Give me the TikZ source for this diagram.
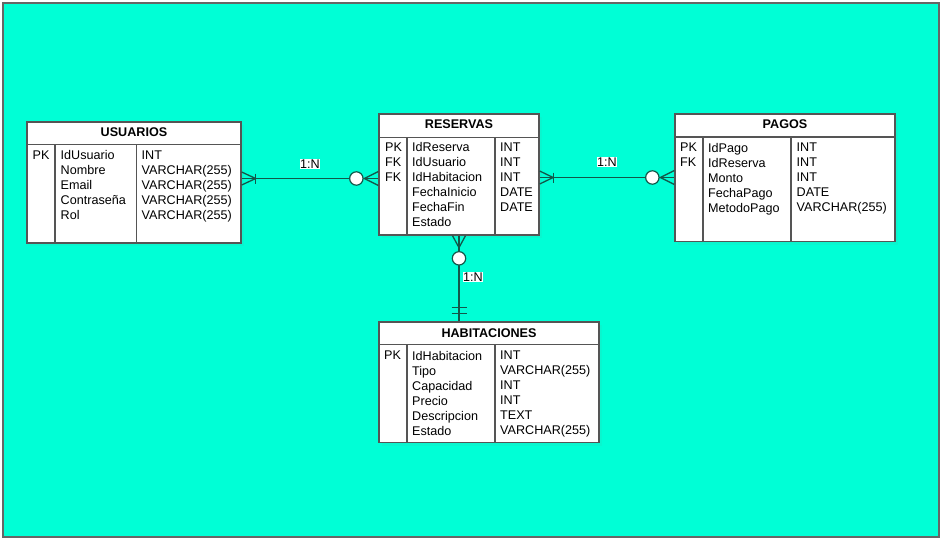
\documentclass[tikz,border=0pt]{standalone}
\usepackage{fontspec}
\setmainfont{Liberation Sans}
\usepackage{tikz}
\usetikzlibrary{positioning,shadows}
\definecolor{bgaqua}{RGB}{0,255,214}
\definecolor{frameline}{RGB}{102,102,102}
\definecolor{tableline}{RGB}{85,85,85}
\definecolor{erline}{RGB}{18,88,74}
\tikzset{
    %Define style for table boxes
    tablebox/.style={
           rectangle,
           draw=tableline, line width=1.3pt,
           fill=white,
           inner sep=0pt,
           drop shadow={shadow xshift=3pt, shadow yshift=-3pt, opacity=0.07}
           },
    headtext/.style={
           font=\fontsize{12.6}{15}\selectfont\bfseries,
           inner sep=0pt,
           text centered
           },
    coltext/.style={
           anchor=north west,
           align=left,
           inner sep=0pt,
           font=\fontsize{12.6}{15}\selectfont
           },
    divider/.style={
           draw=tableline, line width=1.3pt},
    % Define connector style
    erline/.style={
           draw=erline, line width=1.3pt},
    ercircle/.style={
           circle,
           draw=erline, line width=1.2pt,
           fill=white,
           inner sep=0pt,
           minimum size=13.4pt},
    card/.style={
           fill=white,
           inner sep=0.6pt,
           font=\fontsize{12.6}{15}\selectfont}
}
\begin{document}
\begin{tikzpicture}[x=1pt,y=-1pt]
\useasboundingbox (0,0) rectangle (942,539);
\draw[draw=frameline, fill=bgaqua, line width=2pt] (3,2.5) rectangle (938.5,536.5);

 %tables
\node[tablebox, minimum width=214pt, minimum height=121pt] (usuarios) at (134,182.5) {};
\node[tablebox, minimum width=160pt, minimum height=121pt] (reservas) at (459,174.5) {};
\node[tablebox, minimum width=220pt, minimum height=127.5pt] (pagos) at (785,177.75) {};
\node[tablebox, minimum width=220pt, minimum height=120.5pt] (habitaciones) at (489,382.25) {};

 %USUARIOS
\node[headtext] (usuarios-t) at (134,132.5) {USUARIOS};
\draw[divider] (27,144.5) -- (241,144.5);
\draw[divider] (55,144.5) -- (55,243);
\draw[divider] (136.5,144.5) -- (136.5,243);
\node[coltext] (usuarios-k) at (32.5,150.4) {PK};
\node[coltext] (usuarios-n) at (60.5,150.4) {IdUsuario\\Nombre\\Email\\Contraseña\\Rol};
\node[coltext] (usuarios-d) at (141.5,150.4) {INT\\VARCHAR(255)\\VARCHAR(255)\\VARCHAR(255)\\VARCHAR(255)};

 %RESERVAS
\node[headtext] (reservas-t) at (459,124.5) {RESERVAS};
\draw[divider] (379,137.5) -- (539,137.5);
\draw[divider] (407,137.5) -- (407,235);
\draw[divider] (495,137.5) -- (495,235);
\node[coltext] (reservas-k) at (385,142.4) {PK\\FK\\FK};
\node[coltext] (reservas-n) at (412,142.4) {IdReserva\\IdUsuario\\IdHabitacion\\FechaInicio\\FechaFin\\Estado};
\node[coltext] (reservas-d) at (500,142.4) {INT\\INT\\INT\\DATE\\DATE};

 %PAGOS
\node[headtext] (pagos-t) at (785,124.5) {PAGOS};
\draw[divider] (675,137) -- (895,137);
\draw[divider] (703,137) -- (703,241.5);
\draw[divider] (791,137) -- (791,241.5);
\node[coltext] (pagos-k) at (680,142.7) {PK\\FK};
\node[coltext] (pagos-n) at (708,142.7) {IdPago\\IdReserva\\Monto\\FechaPago\\MetodoPago};
\node[coltext] (pagos-d) at (796.5,142.7) {INT\\INT\\INT\\DATE\\VARCHAR(255)};

 %HABITACIONES
\node[headtext] (habitaciones-t) at (489,333) {HABITACIONES};
\draw[divider] (379,344.5) -- (599,344.5);
\draw[divider] (407,344.5) -- (407,442.5);
\draw[divider] (495,344.5) -- (495,442.5);
\node[coltext] (habitaciones-k) at (384,351) {PK};
\node[coltext] (habitaciones-n) at (412,351) {IdHabitacion\\Tipo\\Capacidad\\Precio\\Descripcion\\Estado};
\node[coltext] (habitaciones-d) at (500,351) {INT\\VARCHAR(255)\\INT\\INT\\TEXT\\VARCHAR(255)};

 %USUARIOS - RESERVAS
\coordinate (a1) at (usuarios.east |- 0,178.5);
\coordinate (a2) at (reservas.west |- 0,178.5);
\draw[erline] (a1) -- (a2);
\draw[erline] ([yshift=6.5pt]a1) -- ([xshift=14pt]a1) -- ([yshift=-6.5pt]a1);
\draw[erline] ([xshift=14pt,yshift=5pt]a1) -- ([xshift=14pt,yshift=-5pt]a1);
\draw[erline] ([yshift=7pt]a2) -- ([xshift=-14pt]a2) -- ([yshift=-7pt]a2);
\node[ercircle] (o1) at ([xshift=-22pt]a2) {};
\node[card] (l1) at (310,164) {1:N};

 %RESERVAS - PAGOS
\coordinate (b1) at (reservas.east |- 0,177.5);
\coordinate (b2) at (pagos.west |- 0,177.5);
\draw[erline] (b1) -- (b2);
\draw[erline] ([yshift=6.5pt]b1) -- ([xshift=13.5pt]b1) -- ([yshift=-6.5pt]b1);
\draw[erline] ([xshift=13.5pt,yshift=5pt]b1) -- ([xshift=13.5pt,yshift=-5pt]b1);
\draw[erline] ([yshift=7pt]b2) -- ([xshift=-14pt]b2) -- ([yshift=-7pt]b2);
\node[ercircle] (o2) at ([xshift=-22pt]b2) {};
\node[card] (l2) at (607,162) {1:N};

 %RESERVAS - HABITACIONES
\coordinate (c1) at (reservas.south);
\coordinate (c2) at (habitaciones.north -| reservas.south);
\draw[erline] (c1) -- (c2);
\draw[erline] ([xshift=-6.5pt]c1) -- ([yshift=-12pt]c1) -- ([xshift=6.5pt]c1);
\node[ercircle] (o3) at ([yshift=-22.7pt]c1) {};
\draw[erline] ([xshift=-7.5pt,yshift=13.7pt]c2) -- ([xshift=7.5pt,yshift=13.7pt]c2);
\draw[erline] ([xshift=-7.5pt,yshift=8pt]c2) -- ([xshift=7.5pt,yshift=8pt]c2);
\node[card] (l3) at (473,276.7) {1:N};
\end{tikzpicture}
\end{document}
